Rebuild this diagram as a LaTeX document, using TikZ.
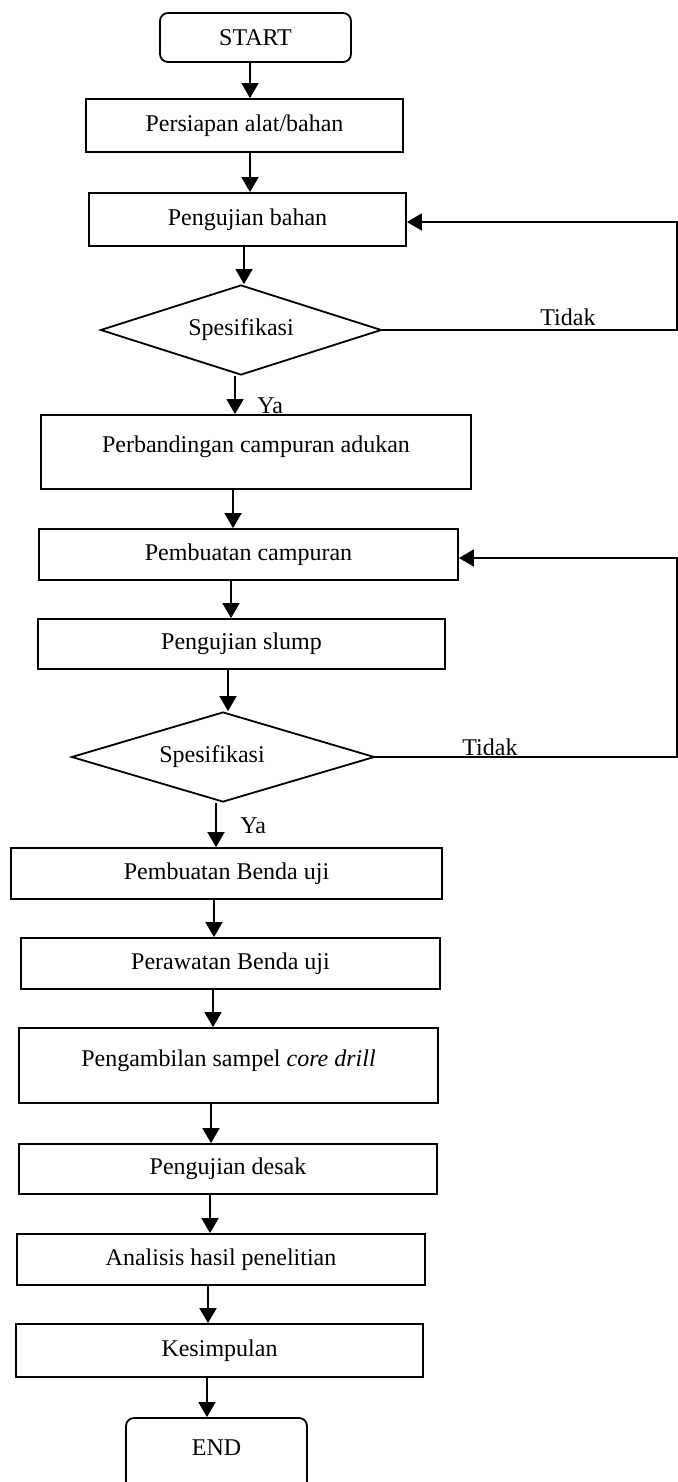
\documentclass[tikz,border=0pt]{standalone}
\usepackage{fontspec}
\setmainfont{Liberation Serif}
\usetikzlibrary{arrows.meta,shapes.geometric}
\begin{document}
\begin{tikzpicture}[x=0.5pt,y=-0.5pt,
  every node/.style={font=\fontsize{12pt}{14pt}\selectfont},
  box/.style={draw, line width=0.9pt, rectangle, inner sep=0pt},
  term/.style={box, rounded corners=4pt},
  dec/.style={draw, line width=0.9pt, diamond, shape aspect=3.2, inner sep=0pt},
  arr/.style={line width=0.9pt, -{Triangle[length=7.5pt,width=8.5pt]}},
  lbl/.style={inner sep=0pt}]
\useasboundingbox (0,0) rectangle (678,1482);

\node[term, minimum width=95.5pt, minimum height=24.5pt] (start) at (255.5,37.5) {START};
\node[box, minimum width=158.5pt, minimum height=26.5pt] (p1) at (244.5,125.5) {Persiapan alat/bahan};
\node[box, minimum width=158.5pt, minimum height=26.5pt] (p2) at (247.5,219.5) {Pengujian bahan};
\node[dec, minimum width=140.5pt, minimum height=45pt] (d1) at (241,330) {Spesifikasi};
\node[box, minimum width=215pt, minimum height=37pt, text depth=7.6pt] (p3) at (256,452) {Perbandingan campuran adukan};
\node[box, minimum width=209.5pt, minimum height=25.5pt] (p4) at (248.5,554.5) {Pembuatan campuran};
\node[box, minimum width=203.5pt, minimum height=25pt] (p5) at (241.5,644) {Pengujian slump};
\node[dec, minimum width=151.5pt, minimum height=45pt] (d2) at (223,757) {Spesifikasi\hspace*{11pt}};
\node[box, minimum width=215.5pt, minimum height=25.5pt] (p6) at (226.5,873.5) {Pembuatan Benda uji};
\node[box, minimum width=209.5pt, minimum height=25.5pt] (p7) at (230.5,963.5) {Perawatan Benda uji};
\node[box, minimum width=209.5pt, minimum height=37.5pt, text depth=7.6pt] (p8) at (228.5,1065.5) {Pengambilan sampel \textit{core drill}};
\node[box, minimum width=209pt, minimum height=25pt] (p9) at (228,1169) {Pengujian desak};
\node[box, minimum width=204pt, minimum height=25.5pt] (p10) at (221,1259.5) {Analisis hasil penelitian};
\node[box, minimum width=203.5pt, minimum height=26.5pt] (p11) at (219.5,1350.5) {Kesimpulan};
\node[term, minimum width=90.5pt, minimum height=46pt, text depth=16pt] (end) at (216.5,1464) {END};

\draw[arr] ([xshift=-2.75pt]start.south) -- ([xshift=2.75pt]p1.north);
\draw[arr] ([xshift=2.75pt]p1.south) -- ([xshift=1.25pt]p2.north);
\draw[arr] ([xshift=-1.75pt]p2.south) -- ([xshift=1.5pt]d1.north);
\draw[arr] ([xshift=-3pt]d1.south) -- ([xshift=-10.5pt]p3.north);
\draw[arr] ([xshift=-11.5pt]p3.south) -- ([xshift=-7.75pt]p4.north);
\draw[arr] ([xshift=-8.75pt]p4.south) -- ([xshift=-5.25pt]p5.north);
\draw[arr] ([xshift=-6.75pt]p5.south) -- ([xshift=2.5pt]d2.north);
\draw[arr] ([xshift=-3.5pt]d2.south) -- ([xshift=-5.25pt]p6.north);
\draw[arr] ([xshift=-6.25pt]p6.south) -- ([xshift=-8.25pt]p7.north);
\draw[arr] ([xshift=-8.75pt]p7.south) -- ([xshift=-7.75pt]p8.north);
\draw[arr] ([xshift=-8.75pt]p8.south) -- ([xshift=-8.5pt]p9.north);
\draw[arr] ([xshift=-9pt]p9.south) -- ([xshift=-5.5pt]p10.north);
\draw[arr] ([xshift=-6.5pt]p10.south) -- ([xshift=-5.75pt]p11.north);
\draw[arr] ([xshift=-6.25pt]p11.south) -- ([xshift=-4.75pt]end.north);

\coordinate (r1) at (677,333);
\coordinate (r2) at (677,760);
\draw[arr] (d1.east) -- (d1.east -| r1) |- ([yshift=-1.25pt]p2.east);
\draw[arr] (d2.east) -- (d2.east -| r2) |- ([yshift=-1.75pt]p4.east);

\node[lbl, anchor=base west] (t1) at (540,325) {Tidak};
\node[lbl, anchor=base west] (t2) at (462,755) {Tidak};
\node[lbl, anchor=base west] (y1) at (257,413) {Ya};
\node[lbl, anchor=base west] (y2) at (240,833) {Ya};
\end{tikzpicture}
\end{document}
